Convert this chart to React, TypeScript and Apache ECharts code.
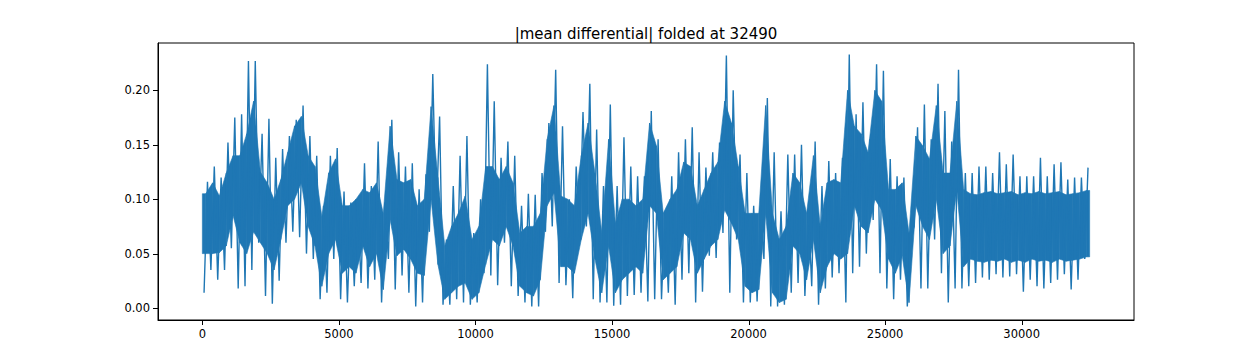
import React, { useEffect, useRef } from "react";
import * as echarts from "echarts";

const TITLE = "|mean differential| folded at 32490";
const BIN_WIDTH = 250;
const LAST_X = 32489;

// per-bin extremes (bins of 250 samples)
const hiValues = [
  0.116, 0.13, 0.12, 0.152, 0.175, 0.178, 0.227, 0.227, 0.16, 0.174,
  0.138, 0.146, 0.158, 0.173, 0.186, 0.158, 0.14, 0.094, 0.14, 0.147,
  0.107, 0.097, 0.097, 0.133, 0.112, 0.153, 0.097, 0.173, 0.143, 0.13,
  0.133, 0.109, 0.123, 0.215, 0.176, 0.063, 0.112, 0.14, 0.158, 0.069,
  0.1, 0.224, 0.19, 0.138, 0.153, 0.14, 0.094, 0.105, 0.104, 0.124,
  0.17, 0.219, 0.167, 0.1, 0.13, 0.18, 0.206, 0.164, 0.112, 0.187,
  0.112, 0.157, 0.13, 0.121, 0.121, 0.181, 0.155, 0.089, 0.121, 0.143,
  0.155, 0.166, 0.143, 0.129, 0.143, 0.152, 0.232, 0.2, 0.141, 0.124,
  0.094, 0.094, 0.193, 0.143, 0.089, 0.141, 0.141, 0.15, 0.092, 0.153,
  0.112, 0.135, 0.124, 0.138, 0.233, 0.178, 0.189, 0.155, 0.224, 0.218,
  0.137, 0.121, 0.12, 0.066, 0.166, 0.187, 0.155, 0.206, 0.181, 0.153,
  0.219, 0.124, 0.124, 0.13, 0.13, 0.124, 0.143, 0.132, 0.141, 0.121,
  0.121, 0.121, 0.138, 0.121, 0.132, 0.134, 0.118, 0.12, 0.12, 0.129,
];
const loValues = [
  0.014, 0.035, 0.026, 0.035, 0.055, 0.018, 0.02, 0.035, 0.06, 0.011,
  0.004, 0.025, 0.06, 0.07, 0.065, 0.05, 0.045, 0.008, 0.014, 0.045,
  0.008, 0.005, 0.02, 0.023, 0.018, 0.026, 0.005, 0.045, 0.017, 0.03,
  0.014, 0.0015, 0.005, 0.07, 0.08, 0.003, 0.003, 0.008, 0.005, 0.003,
  0.005, 0.032, 0.03, 0.021, 0.06, 0.02, 0.011, 0.005, 0.0015, 0.0015,
  0.07, 0.075, 0.023, 0.021, 0.009, 0.066, 0.075, 0.008, 0.005, 0.005,
  0.002, 0.003, 0.011, 0.012, 0.014, 0.006, 0.008, 0.008, 0.014, 0.003,
  0.026, 0.032, 0.005, 0.015, 0.048, 0.046, 0.069, 0.014, 0.063, 0.005,
  0.005, 0.006, 0.045, 0.0015, 0.0015, 0.003, 0.014, 0.023, 0.011, 0.02,
  0.003, 0.018, 0.028, 0.032, 0.005, 0.032, 0.038, 0.05, 0.081, 0.032,
  0.018, 0.008, 0.026, 0.0015, 0.075, 0.018, 0.018, 0.063, 0.032, 0.005,
  0.018, 0.018, 0.02, 0.023, 0.028, 0.026, 0.031, 0.028, 0.029, 0.031,
  0.015, 0.026, 0.02, 0.018, 0.023, 0.026, 0.031, 0.017, 0.026, 0.045,
];

// per-bin dense body of the trace (where the line fills solidly)
const bodyHiValues = [
  0.105, 0.115, 0.103, 0.124, 0.14, 0.14, 0.16, 0.19, 0.125, 0.115,
  0.1, 0.118, 0.143, 0.167, 0.176, 0.14, 0.13, 0.084, 0.124, 0.137,
  0.094, 0.094, 0.1, 0.109, 0.106, 0.115, 0.087, 0.167, 0.118, 0.115,
  0.118, 0.094, 0.1, 0.185, 0.12, 0.057, 0.075, 0.087, 0.103, 0.063,
  0.075, 0.13, 0.13, 0.118, 0.13, 0.115, 0.069, 0.075, 0.075, 0.087,
  0.155, 0.186, 0.103, 0.1, 0.094, 0.14, 0.17, 0.124, 0.069, 0.155,
  0.078, 0.1, 0.1, 0.094, 0.1, 0.17, 0.149, 0.087, 0.1, 0.109,
  0.134, 0.13, 0.094, 0.109, 0.124, 0.134, 0.19, 0.17, 0.13, 0.087,
  0.087, 0.087, 0.186, 0.087, 0.063, 0.075, 0.124, 0.115, 0.087, 0.14,
  0.075, 0.115, 0.118, 0.115, 0.2, 0.167, 0.16, 0.143, 0.2, 0.19,
  0.109, 0.109, 0.115, 0.069, 0.158, 0.149, 0.137, 0.186, 0.124, 0.124,
  0.19, 0.109, 0.105, 0.104, 0.106, 0.107, 0.105, 0.106, 0.107, 0.104,
  0.106, 0.105, 0.107, 0.105, 0.106, 0.107, 0.104, 0.105, 0.106, 0.108,
];
const bodyLoValues = [
  0.05, 0.05, 0.051, 0.057, 0.085, 0.06, 0.05, 0.07, 0.06, 0.05,
  0.035, 0.063, 0.094, 0.1, 0.115, 0.075, 0.057, 0.02, 0.05, 0.063,
  0.032, 0.038, 0.032, 0.057, 0.038, 0.05, 0.017, 0.081, 0.048, 0.054,
  0.045, 0.032, 0.03, 0.1, 0.04, 0.008, 0.014, 0.02, 0.023, 0.008,
  0.014, 0.04, 0.063, 0.057, 0.075, 0.057, 0.02, 0.014, 0.011, 0.026,
  0.094, 0.106, 0.038, 0.038, 0.032, 0.063, 0.087, 0.045, 0.014, 0.057,
  0.014, 0.026, 0.032, 0.038, 0.032, 0.094, 0.087, 0.026, 0.032, 0.038,
  0.069, 0.063, 0.032, 0.045, 0.057, 0.063, 0.09, 0.078, 0.063, 0.02,
  0.014, 0.017, 0.087, 0.014, 0.005, 0.008, 0.057, 0.05, 0.026, 0.063,
  0.014, 0.038, 0.05, 0.045, 0.05, 0.094, 0.075, 0.069, 0.1, 0.09,
  0.045, 0.032, 0.048, 0.005, 0.094, 0.075, 0.063, 0.1, 0.05, 0.057,
  0.109, 0.038, 0.045, 0.043, 0.042, 0.044, 0.043, 0.045, 0.042, 0.044,
  0.042, 0.045, 0.043, 0.044, 0.042, 0.045, 0.043, 0.044, 0.045, 0.047,
];

const xTicks = [0, 5000, 10000, 15000, 20000, 25000, 30000];
const yTicks = [0, 0.05, 0.1, 0.15, 0.2];
const X_MIN = -1624;
const X_MAX = 34113;
const Y_MIN = -0.011;
const Y_MAX = 0.2435;

const LINE_COLOR = "#1f77b4";
const FONT = "DejaVu Sans";
const TICK_LEN = 5;

export default function App() {
  const ref = useRef<HTMLDivElement>(null);

  useEffect(() => {
    if (!ref.current) return;
    const chart = echarts.init(ref.current, null, { renderer: "svg" });

    const n = hiValues.length;
    const binX = (i: number) => Math.min(i * BIN_WIDTH + BIN_WIDTH / 2, LAST_X);

    // body band: polygon between neighbouring bins
    const pts: number[][] = [[0, bodyLoValues[0], bodyHiValues[0]]];
    for (let i = 0; i < n; i++) pts.push([binX(i), bodyLoValues[i], bodyHiValues[i]]);
    pts.push([LAST_X, bodyLoValues[n - 1], bodyHiValues[n - 1]]);
    const segs = pts.slice(0, -1).map((p, i) => [...p, ...pts[i + 1]]);

    // trace through each bin's low and high
    const trace: number[][] = [];
    for (let i = 0; i < n; i++) {
      const x0 = i * BIN_WIDTH;
      const x1 = Math.min(x0 + BIN_WIDTH, LAST_X);
      trace.push([x0 + (x1 - x0) * 0.25, loValues[i]]);
      trace.push([x0 + (x1 - x0) * 0.75, hiValues[i]]);
    }

    const axisLine = { show: true, onZero: false, lineStyle: { color: "#000", width: 1 } };
    const tickStyle = { stroke: "#000", lineWidth: 1 };

    chart.setOption({
      animation: false,
      backgroundColor: "#ffffff",
      textStyle: { fontFamily: FONT },
      title: {
        text: TITLE,
        left: 641,
        top: 21,
        textAlign: "center",
        textStyle: { fontFamily: FONT, fontSize: 15, fontWeight: "normal", color: "#000" },
      },
      grid: {
        left: 158,
        top: 43,
        width: 976,
        height: 277,
        show: true,
        borderColor: "#000",
        borderWidth: 1,
        backgroundColor: "transparent",
      },
      xAxis: {
        type: "value",
        min: X_MIN,
        max: X_MAX,
        splitLine: { show: false },
        axisLine,
        axisTick: { show: false },
        axisLabel: {
          customValues: xTicks,
          margin: 8,
          fontFamily: FONT,
          fontSize: 11.5,
          color: "#000",
          formatter: (v: number) => String(v),
        },
      },
      yAxis: {
        type: "value",
        min: Y_MIN,
        max: Y_MAX,
        splitLine: { show: false },
        axisLine,
        axisTick: { show: false },
        axisLabel: {
          customValues: yTicks,
          margin: 8,
          fontFamily: FONT,
          fontSize: 11.5,
          color: "#000",
          formatter: (v: number) => v.toFixed(2),
        },
      },
      series: [
        {
          type: "custom",
          data: segs,
          encode: { x: [0, 3], y: [1, 2, 4, 5] },
          renderItem: (params: any, api: any) => {
            const a = api.coord([api.value(0), api.value(1)]);
            const b = api.coord([api.value(0), api.value(2)]);
            const c = api.coord([api.value(3), api.value(5)]);
            const d = api.coord([api.value(3), api.value(4)]);
            return {
              type: "polygon",
              shape: { points: [a, b, c, d] },
              style: { fill: LINE_COLOR, stroke: LINE_COLOR, lineWidth: 0.6 },
            };
          },
        },
        {
          type: "line",
          data: trace,
          showSymbol: false,
          symbol: "none",
          lineStyle: { color: LINE_COLOR, width: 1.4 },
          itemStyle: { color: LINE_COLOR },
        },
        {
          // x-axis tick marks
          type: "custom",
          clip: false,
          silent: true,
          data: xTicks.map((v) => [v, Y_MIN]),
          renderItem: (params: any, api: any) => {
            const p = api.coord([api.value(0), api.value(1)]);
            const x = Math.round(p[0]) + 0.5;
            return {
              type: "line",
              shape: { x1: x, y1: p[1], x2: x, y2: p[1] + TICK_LEN },
              style: tickStyle,
            };
          },
        },
        {
          // y-axis tick marks
          type: "custom",
          clip: false,
          silent: true,
          data: yTicks.map((v) => [X_MIN, v]),
          renderItem: (params: any, api: any) => {
            const p = api.coord([api.value(0), api.value(1)]);
            const y = Math.round(p[1]) + 0.5;
            return {
              type: "line",
              shape: { x1: p[0] - TICK_LEN, y1: y, x2: p[0], y2: y },
              style: tickStyle,
            };
          },
        },
      ],
    });

    return () => chart.dispose();
  }, []);

  return (
    <div
      ref={ref}
      style={{ position: "fixed", left: 0, top: 0, width: 1260, height: 360, background: "#fff" }}
    />
  );
}
